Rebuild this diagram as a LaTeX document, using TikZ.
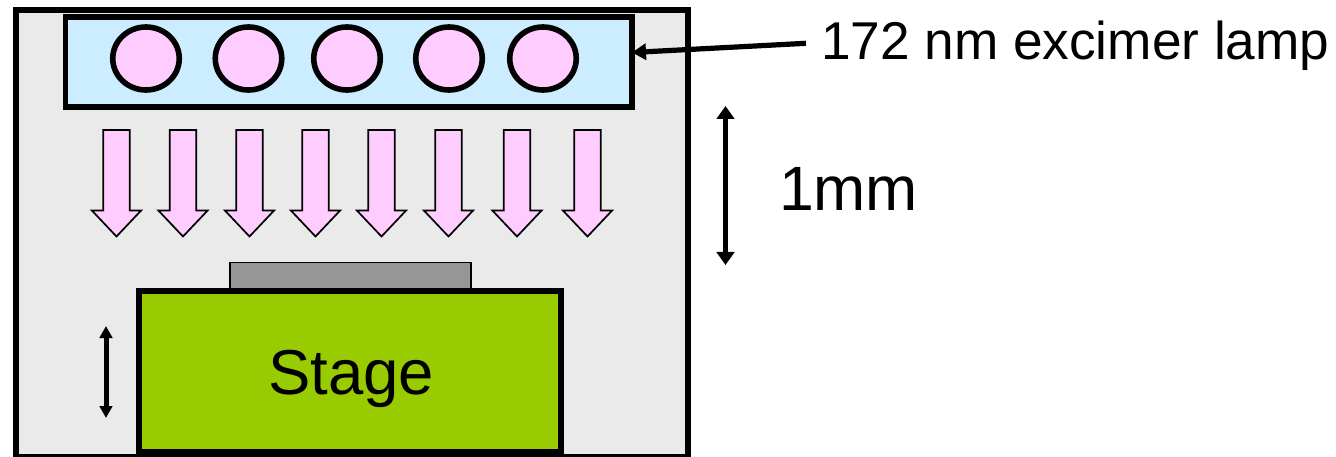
\documentclass[tikz,border=0pt]{standalone}
\usepackage{fontspec}
\setmainfont{Liberation Sans}
\usetikzlibrary{arrows.meta,shapes.geometric}
\definecolor{chamberfill}{HTML}{EAEAEA}
\definecolor{lampfill}{HTML}{CCECFF}
\definecolor{pinkfill}{HTML}{FFCCFF}
\definecolor{stagefill}{HTML}{99CC00}
\definecolor{samplefill}{HTML}{969696}
\tikzset{
  x=1pt,y=-1pt,
  boxshape/.style={draw=black,line width=5.8pt,inner sep=0pt,outer sep=0pt,anchor=north west},
  lampcircle/.style={draw=black,line width=5.6pt,ellipse,inner sep=0pt,outer sep=0pt,minimum width=66.5pt,minimum height=63pt,fill=pinkfill},
  beam/.style={draw=black,line width=1.7pt,fill=pinkfill,line join=miter},
  lbl/.style={inner sep=0pt,outer sep=0pt,text=black,anchor=base west},
  dblarrow/.style={draw=black,line width=4.4pt,{Triangle[length=13pt,width=17.5pt]}-{Triangle[length=13pt,width=17.5pt]}},
  smallarrow/.style={draw=black,line width=5pt,{Triangle[length=12pt,width=12.5pt]}-{Triangle[length=12pt,width=12.5pt]}},
  pointer/.style={draw=black,line width=5.2pt,-{Triangle[length=14pt,width=16pt]}}
}
\begin{document}
\begin{tikzpicture}
\useasboundingbox (0,0) rectangle (1336,457);
\fill[white] (0,0) rectangle (1336,457);
\node[boxshape,fill=chamberfill,minimum width=672.5pt,minimum height=446.5pt] (chamber) at (15.7,10) {};
\node[boxshape,fill=lampfill,minimum width=566.2pt,minimum height=90.3pt] (lamp) at (65.5,16.7) {};
\foreach \n/\cx in {1/146,2/248.5,3/347,4/449,5/543}
  \node[lampcircle] (c\n) at (\cx,58.5) {};
\foreach \cx in {116.5,183,249.5,315.5,381.5,448.5,517,587.5}
  \draw[beam] (\cx-13.2,130) -- (\cx+13.2,130) -- (\cx+13.2,210.5) -- (\cx+24.6,210.5) -- (\cx,236.5) -- (\cx-24.6,210.5) -- (\cx-13.2,210.5) -- cycle;
\node[draw=black,line width=1.6pt,fill=samplefill,inner sep=0pt,outer sep=0pt,anchor=north west,minimum width=241pt,minimum height=26pt] (sample) at (229.7,262.3) {};
\node[boxshape,fill=stagefill,minimum width=422.5pt,minimum height=160.5pt] (stage) at (138.7,291) {};
\node[lbl,font=\fontsize{63.5}{63.5}\selectfont] (stagelabel) at (268,394) {Stage};
\node[lbl,font=\fontsize{53.2}{53.2}\selectfont] (lamplabel) at (821,60) {172 nm excimer lamp};
\node[lbl,font=\fontsize{62.6}{62.6}\selectfont] (gaplabel) at (779,211) {1mm};
\coordinate (pstart) at (806,43.3);
\coordinate (ptip) at (632,52.5);
\draw[pointer] (pstart) -- (ptip);
\coordinate (gaptop) at (725.5,106);
\coordinate (gapbot) at (725.5,265);
\draw[dblarrow] (gaptop) -- (gapbot);
\coordinate (stagetop) at (106,326);
\coordinate (stagebot) at (106,418);
\draw[smallarrow] (stagetop) -- (stagebot);
\end{tikzpicture}
\end{document}
